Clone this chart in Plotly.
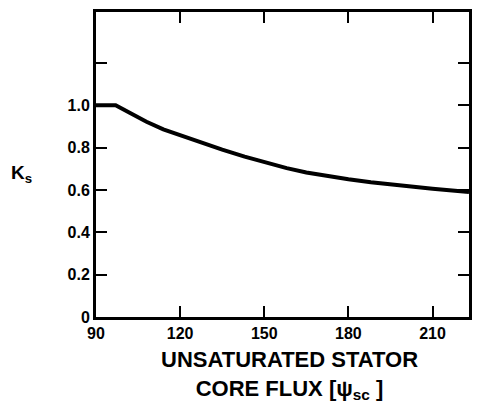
import plotly.graph_objects as go

# Data
flux = [90, 97, 102, 108, 114, 120, 128, 135, 143, 150, 158, 165, 172, 180, 188, 195, 203, 210, 217, 223]
ks = [1.0, 1.0, 0.964, 0.922, 0.886, 0.858, 0.822, 0.79, 0.757, 0.73, 0.703, 0.682, 0.665, 0.65, 0.636, 0.625, 0.614, 0.605, 0.597, 0.59]

x_ticks = [90, 120, 150, 180, 210]
x_labels = ["90", "120", "150", "180", "210"]
y_ticks = [0, 0.2, 0.4, 0.6, 0.8, 1.0, 1.2]
y_labels = ["0", "0.2", "0.4", "0.6", "0.8", "1.0", ""]

FONT = "Liberation Sans"

fig = go.Figure()
fig.add_trace(go.Scatter(
    x=flux, y=ks, mode="lines",
    line=dict(color="black", width=4),
    hoverinfo="skip", showlegend=False,
))

axis_common = dict(
    showline=True, linecolor="black", linewidth=3, mirror="ticks",
    ticks="inside", ticklen=11, tickwidth=2, tickcolor="black",
    showgrid=False, zeroline=False,
    tickfont=dict(family=FONT, size=16, color="black", weight="bold"),
)

fig.update_layout(
    width=479, height=404,
    margin=dict(l=96, r=7, t=12, b=87),
    paper_bgcolor="white", plot_bgcolor="white",
    xaxis=dict(range=[90, 223], tickvals=x_ticks, ticktext=x_labels, **axis_common),
    yaxis=dict(range=[0, 1.44], tickvals=y_ticks, ticktext=y_labels, **axis_common),
    annotations=[
        dict(text="UNSATURATED STATOR<br>CORE FLUX [\u03c8<sub>sc</sub> ]",
             xref="paper", yref="paper", x=0.52, y=-0.092, xanchor="center", yanchor="top",
             showarrow=False, align="center",
             font=dict(family=FONT, size=22, color="black", weight="bold")),
        dict(text="K<sub>s</sub>", xref="paper", yref="paper", x=-0.2, y=0.47,
             xanchor="center", yanchor="middle", showarrow=False,
             font=dict(family=FONT, size=19, color="black", weight="bold")),
    ],
)

fig.write_html("out.html")
